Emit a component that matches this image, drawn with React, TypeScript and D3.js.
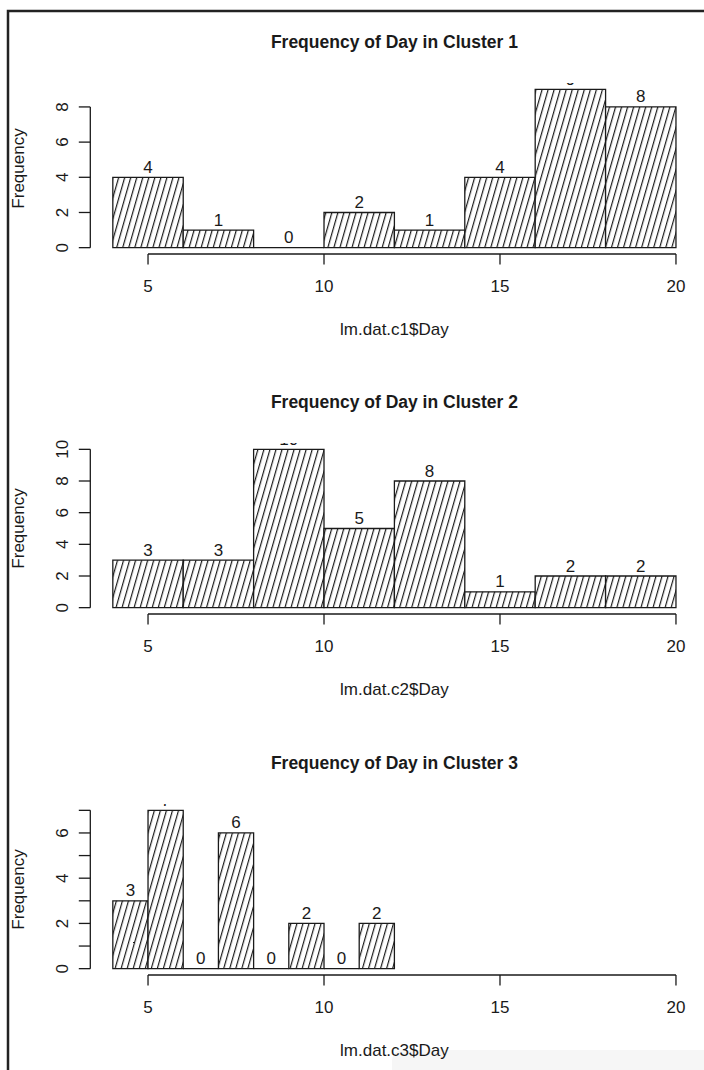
import React from "react";
import * as d3 from "d3";

// ---------- data ----------
const breaksWide = [4, 6, 8, 10, 12, 14, 16, 18, 20];
const breaksNarrow = [4, 5, 6, 7, 8, 9, 10, 11, 12];
const cluster1Counts = [4, 1, 0, 2, 1, 4, 9, 8];
const cluster2Counts = [3, 3, 10, 5, 8, 1, 2, 2];
const cluster3Counts = [3, 7, 0, 6, 0, 2, 0, 2];
const titles = [
  "Frequency of Day in Cluster 1",
  "Frequency of Day in Cluster 2",
  "Frequency of Day in Cluster 3",
];
const xLabels = ["lm.dat.c1$Day", "lm.dat.c2$Day", "lm.dat.c3$Day"];
const xTicks = [5, 10, 15, 20];
const yTicks1 = [0, 2, 4, 6, 8];
const yTicks2 = [0, 2, 4, 6, 8, 10];
const yTicks3 = [0, 1, 2, 3, 4, 5, 6, 7];
const yTickLabels3 = [0, 2, 4, 6];

const panels = [
  { counts: cluster1Counts, breaks: breaksWide, yTicks: yTicks1, yLabels: yTicks1 },
  { counts: cluster2Counts, breaks: breaksWide, yTicks: yTicks2, yLabels: yTicks2 },
  { counts: cluster3Counts, breaks: breaksNarrow, yTicks: yTicks3, yLabels: yTickLabels3 },
];

// ---------- layout ----------
const W = 704;
const H = 1070;
const plotLeft = 90.3;
const plotRight = 698.5;
const panelTops = [83, 443, 804];
const plotH = 171;
const FONT = "'Liberation Sans', Arial, Helvetica, sans-serif";
const INK = "#1a1a1a";
const LABEL_SIZE = 17;
const TITLE_SIZE = 17.5;

const x = d3.scaleLinear().domain([3.36, 20.64]).range([plotLeft, plotRight]);

function Panel({ i }: { i: number }) {
  const p = panels[i];
  const top = panelTops[i];
  const bottom = top + plotH;
  const ymax = d3.max(p.counts) as number;
  const y = d3
    .scaleLinear()
    .domain([-0.04 * ymax, 1.04 * ymax])
    .range([bottom, top]);
  const cx = (plotLeft + plotRight) / 2;
  const midY = (top + bottom) / 2;
  const clipId = `clip${i}`;
  const yAxisTop = y(d3.max(p.yTicks) as number);

  return (
    <g>
      <defs>
        <clipPath id={clipId}>
          <rect x={plotLeft} y={top} width={plotRight - plotLeft} height={plotH} />
        </clipPath>
      </defs>
      {/* title */}
      <text
        x={cx}
        y={top - 35}
        textAnchor="middle"
        fontFamily={FONT}
        fontWeight="bold"
        fontSize={TITLE_SIZE}
        fill={INK}
      >
        {titles[i]}
      </text>
      {/* bars */}
      <g clipPath={`url(#${clipId})`}>
        {p.counts.map((c, k) => {
          const x0 = x(p.breaks[k]);
          const x1 = x(p.breaks[k + 1]);
          const y0 = y(0);
          const y1 = y(c);
          const d = `M${x0},${y0}L${x0},${y1}L${x1},${y1}L${x1},${y0}Z`;
          return (
            <path
              key={k}
              d={d}
              fill={c > 0 ? "url(#hatch)" : "none"}
              stroke={INK}
              strokeWidth={1.3}
            />
          );
        })}
        {p.counts.map((c, k) => (
          <text
            key={"l" + k}
            x={(x(p.breaks[k]) + x(p.breaks[k + 1])) / 2}
            y={y(c) - 4.5}
            textAnchor="middle"
            fontFamily={FONT}
            fontSize={LABEL_SIZE}
            fill={INK}
          >
            {c}
          </text>
        ))}
      </g>
      {/* x axis */}
      <g stroke={INK} strokeWidth={1.3} fill="none">
        <line x1={x(xTicks[0])} x2={x(xTicks[xTicks.length - 1])} y1={bottom} y2={bottom} />
        {xTicks.map((t) => (
          <line key={t} x1={x(t)} x2={x(t)} y1={bottom} y2={bottom + 10.5} />
        ))}
      </g>
      {xTicks.map((t) => (
        <text
          key={"xt" + t}
          x={x(t)}
          y={bottom + 37.7}
          textAnchor="middle"
          fontFamily={FONT}
          fontSize={LABEL_SIZE}
          fill={INK}
        >
          {t}
        </text>
      ))}
      <text
        x={cx}
        y={bottom + 81}
        textAnchor="middle"
        fontFamily={FONT}
        fontSize={LABEL_SIZE}
        fill={INK}
      >
        {xLabels[i]}
      </text>
      {/* y axis */}
      <g stroke={INK} strokeWidth={1.3} fill="none">
        <line x1={plotLeft} x2={plotLeft} y1={y(0)} y2={yAxisTop} />
        {p.yTicks.map((t) => (
          <line key={t} x1={plotLeft - 11.5} x2={plotLeft} y1={y(t)} y2={y(t)} />
        ))}
      </g>
      {p.yLabels.map((t) => (
        <text
          key={"yt" + t}
          transform={`translate(67.5,${y(t)}) rotate(-90)`}
          textAnchor="middle"
          fontFamily={FONT}
          fontSize={LABEL_SIZE}
          fill={INK}
        >
          {t}
        </text>
      ))}
      <text
        transform={`translate(23.5,${midY}) rotate(-90)`}
        textAnchor="middle"
        fontFamily={FONT}
        fontSize={LABEL_SIZE}
        fill={INK}
      >
        Frequency
      </text>
    </g>
  );
}

export default function App() {
  return (
    <svg
      width={W}
      height={H}
      viewBox={`0 0 ${W} ${H}`}
      style={{ position: "absolute", left: 0, top: 0, display: "block", background: "#fff" }}
    >
      <defs>
        <pattern
          id="hatch"
          patternUnits="userSpaceOnUse"
          width={5.8}
          height={20}
          patternTransform="rotate(16)"
        >
          <rect x={0} y={0} width={5.8} height={20} fill="#fff" />
          <line x1={0.6} x2={0.6} y1={-1} y2={21} stroke={INK} strokeWidth={1.2} />
        </pattern>
      </defs>
      <rect x={0} y={0} width={W} height={H} fill="#fff" />
      <path d={`M392,${H}L392,1062Q392,1050 404,1050L${W},1050L${W},${H}Z`} fill="#f6f6f6" />
      {/* frame */}
      <path d={`M8,${H}L8,11L${W},11`} fill="none" stroke="#222" strokeWidth={2.5} />
      {panels.map((_, i) => (
        <Panel key={i} i={i} />
      ))}
    </svg>
  );
}
